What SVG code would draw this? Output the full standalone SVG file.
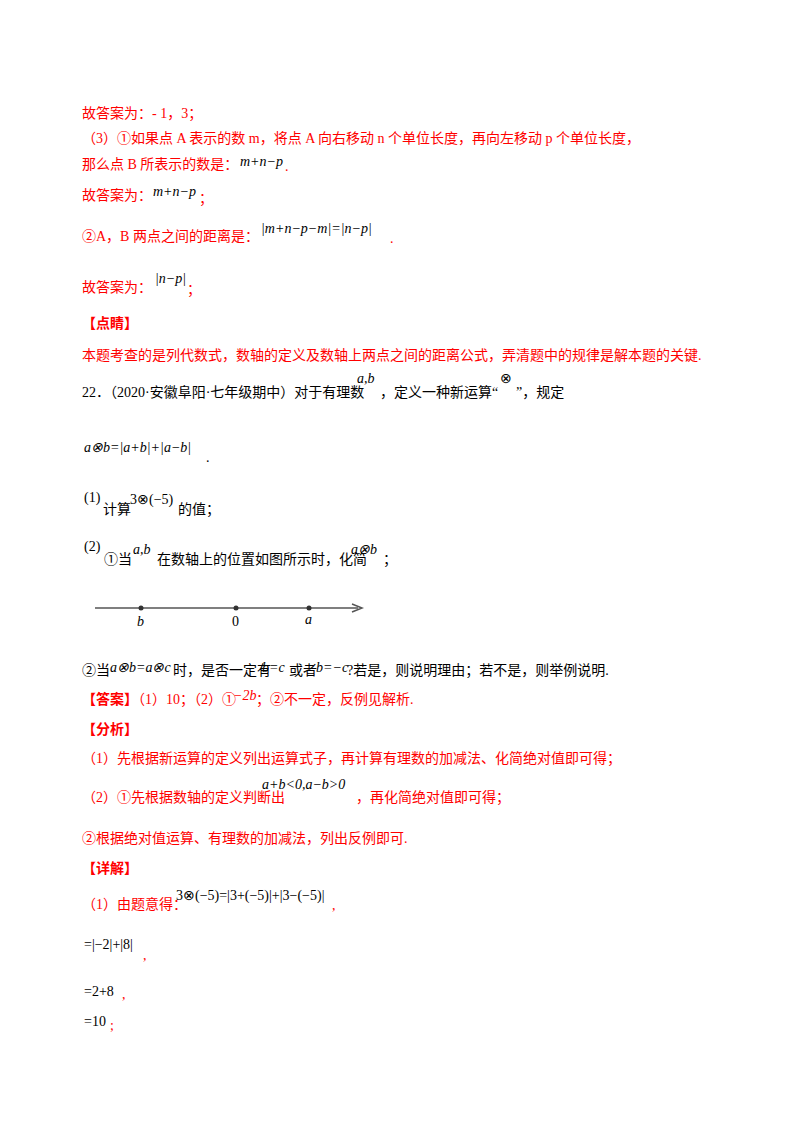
<svg xmlns="http://www.w3.org/2000/svg" width="800" height="1132" viewBox="0 0 800 1132">
<style>
text{font-family:"Liberation Serif","Noto Sans CJK SC",serif;font-size:14px;fill:#000}
.r{fill:#ff0000}
.b{font-weight:bold}
.m{font-family:"Liberation Serif",serif;font-style:italic;font-size:14px}
.n{font-family:"Liberation Serif",serif;font-size:14px}
</style>
<rect width="800" height="1132" fill="#fff"/>
<g id="text">
<text class="r" x="82" y="118">故答案为：- 1，3；</text>
<text class="r" x="82" y="143">（3）①如果点 A 表示的数 m，将点 A 向右移动 n 个单位长度，再向左移动 p 个单位长度，</text>
<text class="r" x="82" y="169">那么点 B 所表示的数是：</text>
<text class="m" x="240" y="166">m+n−p</text>
<text class="r" x="285" y="171">.</text>
<text class="r" x="82" y="200">故答案为：</text>
<text class="m" x="153" y="196">m+n−p</text>
<text class="r" x="199" y="203">；</text>
<text class="r" x="82" y="241">②A，B 两点之间的距离是：</text>
<text class="m" x="261" y="233">|m+n−p−m|=|n−p|</text>
<text class="r" x="390" y="243">.</text>
<text class="r" x="82" y="292">故答案为：</text>
<text class="m" x="155" y="283">|n−p|</text>
<text class="r" x="187" y="294">；</text>
<text class="r b" x="82" y="328">【点睛】</text>
<text class="r" x="82" y="360">本题考查的是列代数式，数轴的定义及数轴上两点之间的距离公式，弄清题中的规律是解本题的关键.</text>
<text x="82" y="397">22．（2020·安徽阜阳·七年级期中）对于有理数</text>
<text class="m" x="357" y="383">a,b</text>
<text x="380" y="397">，定义一种新运算“</text>
<text class="n" x="500" y="383">⊗</text>
<text x="516" y="397">”，规定</text>
<text class="m" x="84" y="452">a⊗b=|a+b|+|a−b|</text>
<text x="206" y="462">.</text>
<text class="n" x="84" y="502">(1)</text>
<text x="103" y="514">计算</text>
<text class="n" x="130" y="504">3⊗(−5)</text>
<text x="178" y="514">的值；</text>
<text class="n" x="84" y="551">(2)</text>
<text x="104" y="564">①当</text>
<text class="m" x="133" y="554">a,b</text>
<text x="157" y="564">在数轴上的位置如图所示时，化简</text>
<text class="m" x="351" y="554">a⊗b</text>
<text x="383" y="564">；</text>
<text x="82" y="675">②当</text>
<text class="m" x="110" y="672">a⊗b=a⊗c</text>
<text x="173" y="675">时，是否一定有</text>
<text class="m" x="262" y="672">b=c</text>
<text x="289" y="675">或者</text>
<text class="m" x="316" y="672">b=−c</text>
<text x="347" y="675">?若是，则说明理由；若不是，则举例说明.</text>
<text class="r" x="82" y="704"><tspan class="b">【答案】</tspan>（1）10；（2）①</text>
<text class="m r" x="233" y="700">−2b</text>
<text class="r" x="256" y="704">；②不一定，反例见解析.</text>
<text class="r b" x="82" y="734">【分析】</text>
<text class="r" x="82" y="763">（1）先根据新运算的定义列出运算式子，再计算有理数的加减法、化简绝对值即可得；</text>
<text class="r" x="82" y="802">（2）①先根据数轴的定义判断出</text>
<text class="m" x="262" y="789">a+b&lt;0,a−b&gt;0</text>
<text class="r" x="356" y="802">，再化简绝对值即可得；</text>
<text class="r" x="82" y="843">②根据绝对值运算、有理数的加减法，列出反例即可.</text>
<text class="r b" x="82" y="873">【详解】</text>
<text class="r" x="82" y="909">（1）由题意得：</text>
<text class="n" x="176" y="900">3⊗(−5)=|3+(−5)|+|3−(−5)|</text>
<text class="r" x="332" y="910">,</text>
<text class="n" x="84" y="949">=|−2|+|8|</text>
<text class="r" x="143" y="960">,</text>
<text class="n" x="84" y="996">=2+8</text>
<text class="r" x="122" y="999">,</text>
<text class="n" x="84" y="1026">=10</text>
<text class="r" x="110" y="1030">;</text>
</g>
<g id="numberline">
<line x1="95" y1="608" x2="358" y2="608" stroke="#555" stroke-width="1.5"/>
<path d="M352,604 L362,608 L352,612" fill="none" stroke="#555" stroke-width="1.5"/>
<circle cx="141" cy="608" r="2.5" fill="#333"/>
<circle cx="236" cy="608" r="2.5" fill="#333"/>
<circle cx="309" cy="608" r="2.5" fill="#333"/>
<text class="m" x="137" y="626" fill="#555">b</text>
<text class="n" x="232" y="626" fill="#555">0</text>
<text class="m" x="305" y="624" fill="#555">a</text>
</g>
</svg>
